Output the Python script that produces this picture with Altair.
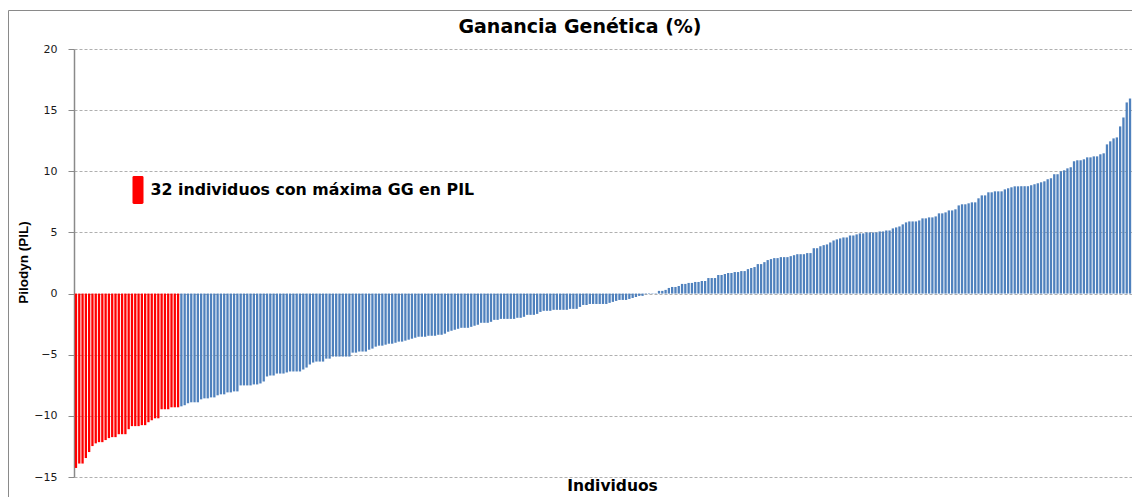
import altair as alt
import pandas as pd

# ---------------- texts ----------------
title_text = "Ganancia Genética (%)"
y_title = "Pilodyn (PIL)"
x_title = "Individuos"
legend_label = "32 individuos con máxima GG en PIL"
other_label = "Resto de individuos"

# ---------------- data (sorted ascending) ----------------
red_values = [-14.26, -13.9, -13.9, -13.45, -12.96, -12.47, -12.25, -12.15, -12.15, -11.98,
              -11.82, -11.74, -11.74, -11.5, -11.5, -11.5, -11.09, -10.84, -10.84, -10.84,
              -10.76, -10.76, -10.52, -10.36, -10.2, -10.2, -9.46, -9.46, -9.46, -9.3,
              -9.3, -9.3]

blue_values_a = [-9.22, -9.13, -8.97, -8.89, -8.89, -8.89, -8.65, -8.57, -8.57, -8.49,
                 -8.49, -8.32, -8.24, -8.24, -8.08, -8.08, -8.0, -8.0, -7.51, -7.51,
                 -7.51, -7.51, -7.43]

blue_values_b = [-7.43, -7.35, -7.19, -6.78, -6.70, -6.70, -6.54, -6.54, -6.54, -6.45,
                 -6.37, -6.37, -6.37, -6.37, -6.21, -6.05, -5.80, -5.64, -5.56, -5.56,
                 -5.56, -5.32, -5.32, -5.15, -5.15, -5.15, -5.15, -5.15, -5.15, -4.83,
                 -4.83, -4.74, -4.74, -4.74, -4.59, -4.50, -4.34, -4.26, -4.26, -4.18,
                 -4.10, -4.10, -4.02, -3.93, -3.93, -3.85, -3.77, -3.69, -3.61, -3.53,
                 -3.53, -3.53, -3.45, -3.45, -3.45, -3.37, -3.37, -3.28]

blue_values_c = [-3.12, -3.04, -2.96, -2.88, -2.80, -2.80, -2.80, -2.72, -2.63, -2.55,
                 -2.39, -2.39, -2.39, -2.31, -2.15, -2.15, -2.07, -2.07, -2.07, -2.07,
                 -2.07, -1.98, -1.98, -1.90, -1.74, -1.74, -1.74, -1.66, -1.50, -1.41,
                 -1.41, -1.41, -1.33, -1.33, -1.33, -1.33, -1.33, -1.25, -1.25, -1.25,
                 -1.09, -0.93, -0.93, -0.85, -0.85, -0.85, -0.85, -0.85, -0.85, -0.76,
                 -0.68, -0.60, -0.52, -0.52, -0.52, -0.44, -0.36, -0.28]

blue_values_d = [-0.19, -0.19, -0.05, -0.04, -0.03, -0.03, 0.22, 0.22, 0.30, 0.46,
                 0.54, 0.54, 0.62, 0.79, 0.79, 0.87, 0.87, 0.95, 0.95, 1.03,
                 1.03, 1.27, 1.27, 1.27, 1.52, 1.52, 1.60, 1.68, 1.68, 1.76,
                 1.76, 1.84, 1.84, 2.00, 2.09, 2.17, 2.41, 2.41, 2.57, 2.74,
                 2.82, 2.90, 2.90, 2.98, 2.98, 2.98, 3.06, 3.14, 3.22, 3.22,
                 3.22, 3.31, 3.31, 3.71, 3.71, 3.87, 3.96]

blue_values_e = [4.02, 4.18, 4.34, 4.43, 4.51, 4.59, 4.59, 4.75, 4.75, 4.84,
                 4.92, 4.92, 5.00, 5.00, 5.00, 5.00, 5.08, 5.08, 5.16, 5.16,
                 5.33, 5.41, 5.49, 5.66, 5.82, 5.90, 5.90, 5.90, 5.98, 6.15,
                 6.15, 6.23, 6.23, 6.31, 6.56, 6.56, 6.64, 6.80, 6.80, 6.89,
                 7.21, 7.30, 7.30, 7.38, 7.46, 7.46, 7.79, 8.03, 8.03, 8.28,
                 8.28, 8.36, 8.36, 8.36, 8.52, 8.61, 8.69, 8.77, 8.77]

blue_values_f = [8.78, 8.78, 8.78, 8.86, 8.94, 9.02, 9.10, 9.18, 9.35, 9.43,
                 9.76, 9.76, 10.00, 10.08, 10.24, 10.33, 10.82, 10.90, 10.90, 10.98,
                 11.14, 11.14, 11.22, 11.22, 11.39, 11.47, 12.20, 12.45, 12.69, 12.77,
                 13.67, 14.40, 15.63, 15.95]

y_ticks = [-15, -10, -5, 0, 5, 10, 15, 20]

blue_values = (blue_values_a + blue_values_b + blue_values_c +
               blue_values_d + blue_values_e + blue_values_f)
all_values = red_values + blue_values
groups = [legend_label] * len(red_values) + [other_label] * len(blue_values)

df = pd.DataFrame({
    "idx": list(range(1, len(all_values) + 1)),
    "val": all_values,
    "grupo": groups,
})

W, H = 1058, 428

legend_symbol = ("M0.314,-1 H0.9 Q1,-1 1,-0.9 V0.9 Q1,1 0.9,1 H0.314 "
                 "Q0.214,1 0.214,0.9 V-0.9 Q0.214,-1 0.314,-1 Z")

bars = alt.Chart(df).mark_bar().encode(
    x=alt.X(
        "idx:O",
        scale=alt.Scale(paddingInner=0.3, paddingOuter=0.25),
        axis=alt.Axis(
            title=x_title, labels=False, ticks=False, domain=False, grid=False,
            titleFont="DejaVu Sans", titleFontWeight="bold", titleFontSize=15.5,
            titleColor="#000000", titleX=538, titleY=13,
            titleBaseline="alphabetic", titleAlign="center",
        ),
    ),
    y=alt.Y(
        "val:Q",
        scale=alt.Scale(domain=[-15, 20], nice=False, zero=True),
        axis=alt.Axis(
            values=y_ticks, format="d",
            labelFont="DejaVu Sans", labelFontSize=11, labelColor="#1a1a1a",
            labelPadding=11, tickSize=6, tickColor="#8a8a8a",
            domainColor="#8a8a8a", domainWidth=1.5,
            grid=True, gridColor="#b0b0b0", gridDash=[3, 2], gridWidth=1,
            title=y_title, titleFont="Liberation Sans", titleFontWeight="bold",
            titleFontSize=13.5, titleColor="#000000", titleAngle=270,
            titleX=-51, titleY=H / 2 - 1, titleAlign="center", titleBaseline="middle",
        ),
    ),
    color=alt.Color(
        "grupo:N",
        scale=alt.Scale(domain=[legend_label, other_label], range=["#FF0000", "#4F81BD"]),
        legend=alt.Legend(
            values=[legend_label], orient="none", legendX=41.5, legendY=127,
            title=None, symbolType=legend_symbol, symbolSize=784,
            symbolStrokeWidth=0, symbolOpacity=1,
            labelFont="DejaVu Sans", labelFontWeight="bold", labelFontSize=15.8,
            labelColor="#000000", labelLimit=700, labelOffset=7,
            labelBaseline="middle", padding=0, rowPadding=0,
        ),
    ),
)

title_layer = alt.Chart(pd.DataFrame({"t": [title_text]})).mark_text(
    font="DejaVu Sans", fontWeight="bold", fontSize=19, color="#000000",
    align="center", baseline="middle",
).encode(text="t:N", x=alt.value(506), y=alt.value(-22))

frame = alt.Chart(pd.DataFrame({"f": [0]})).mark_rect(
    fillOpacity=0, stroke="#8a8a8a", strokeWidth=1,
).encode(x=alt.value(-65.5), x2=alt.value(W + 60), y=alt.value(-38.5), y2=alt.value(H + 60))

chart = alt.layer(frame, bars, title_layer).properties(
    width=W, height=H,
    padding={"left": 66, "top": 41, "right": 0, "bottom": 20},
    autosize=alt.AutoSizeParams(type="none"),
    background="#ffffff",
).configure_view(stroke="transparent")

chart.save("out.html", embed_options={"renderer": "svg", "actions": False})
